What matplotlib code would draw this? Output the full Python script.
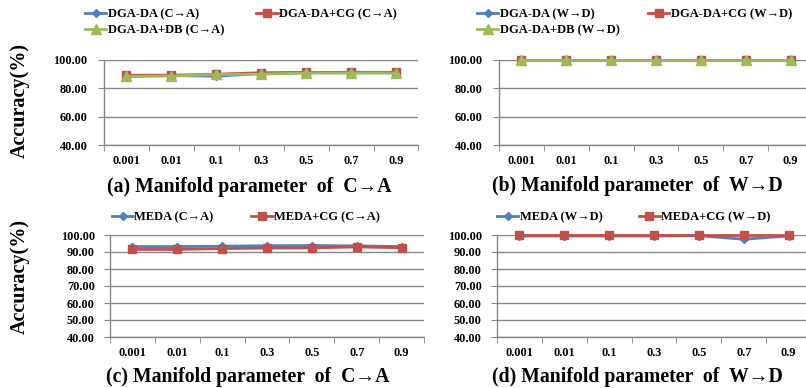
import matplotlib
matplotlib.use("Agg")
import matplotlib.pyplot as plt

plt.rcParams['font.family'] = ['Liberation Serif', 'DejaVu Serif']
plt.rcParams['font.weight'] = 'bold'

params = ["0.001", "0.01", "0.1", "0.3", "0.5", "0.7", "0.9"]

# (a) C->A, DGA-DA variants
dga_ca = [88.5, 89.0, 88.6, 90.5, 91.0, 91.0, 91.0]
dga_cg_ca = [89.3, 89.3, 90.0, 91.0, 91.2, 91.3, 91.3]
dga_db_ca = [88.5, 88.7, 89.8, 90.0, 90.8, 90.8, 90.8]

# (b) W->D, DGA-DA variants
dga_wd = [100.0, 100.0, 100.0, 100.0, 100.0, 100.0, 100.0]
dga_cg_wd = [100.0, 100.0, 100.0, 100.0, 100.0, 100.0, 100.0]
dga_db_wd = [99.8, 99.8, 99.8, 99.8, 99.8, 99.8, 99.8]

# (c) C->A, MEDA
meda_ca = [93.2, 93.2, 93.4, 93.7, 93.8, 93.6, 93.2]
meda_cg_ca = [91.5, 91.5, 92.0, 92.3, 92.4, 93.0, 92.5]

# (d) W->D, MEDA
meda_wd = [99.4, 99.4, 99.4, 99.4, 99.6, 97.5, 99.4]
meda_cg_wd = [100.0, 100.0, 100.0, 100.0, 100.0, 100.0, 100.0]

BLUE = "#4F81BD"
RED = "#C0504D"
GREEN = "#9BBB59"
GRAY = "#868686"

W, H = 806, 388
fig = plt.figure(figsize=(W / 100, H / 100), dpi=100)


def make_axes(l, r, t, b):
    return fig.add_axes([l / W, 1 - b / H, (r - l) / W, (b - t) / H])


def style(ax, yticks, ypad):
    x = range(len(params))
    ax.set_xlim(-0.5, len(params) - 0.5)
    ax.set_ylim(yticks[0], yticks[-1])
    ax.set_yticks(yticks)
    ax.set_yticklabels([f"{v:.2f}" for v in yticks], fontsize=8.8, fontweight='bold')
    ax.set_xticks(list(x))
    ax.set_xticklabels(params, fontsize=8.8, fontweight='bold')
    ax.set_xticks([i - 0.5 for i in range(len(params) + 1)], minor=True)
    ax.tick_params(axis='x', which='major', length=0, pad=7)
    ax.tick_params(axis='x', which='minor', length=4, color=GRAY, direction='out')
    ax.tick_params(axis='y', length=4, color=GRAY, pad=ypad)
    ax.grid(axis='y', color=GRAY, linewidth=1)
    ax.set_axisbelow(True)
    for s in ('top', 'right'):
        ax.spines[s].set_visible(False)
    for s in ('left', 'bottom'):
        ax.spines[s].set_color(GRAY)
        ax.spines[s].set_linewidth(1)


def plot_series(ax, y, color, marker, ms, label):
    return ax.plot(range(len(params)), y, color=color, marker=marker, markersize=ms,
                   linewidth=2, label=label, clip_on=False)[0]


def legend(handles, x, y, colsp):
    fig.legend(handles, [h.get_label() for h in handles], ncol=2, loc='upper left',
               bbox_to_anchor=(x / W, 1 - y / H), columnspacing=colsp, frameon=False,
               handlelength=1.7, handletextpad=0.1, borderaxespad=0, borderpad=0,
               labelspacing=0.3, prop={'weight': 'bold', 'size': 9})


def caption(x, y, s):
    fig.text(x / W, 1 - y / H, s, ha='center', va='center', fontsize=14.2, fontweight='bold')


# (a)
ax = make_axes(104, 418.5, 60, 145)
style(ax, [40, 60, 80, 100], 8)
h1 = plot_series(ax, dga_ca, BLUE, 'D', 4.5, "DGA-DA (C→A)")
h2 = plot_series(ax, dga_cg_ca, RED, 's', 6, "DGA-DA+CG (C→A)")
h3 = plot_series(ax, dga_db_ca, GREEN, '^', 6.5, "DGA-DA+DB (C→A)")
legend([h1, h3, h2], 85, 8.5, 2.6)
caption(249, 187, "(a) Manifold parameter  of  C→A")

# (b)
ax = make_axes(499, 813, 60, 145)
style(ax, [40, 60, 80, 100], 8)
h1 = plot_series(ax, dga_wd, BLUE, 'D', 4.5, "DGA-DA (W→D)")
h2 = plot_series(ax, dga_cg_wd, RED, 's', 6, "DGA-DA+CG (W→D)")
h3 = plot_series(ax, dga_db_wd, GREEN, '^', 6.5, "DGA-DA+DB (W→D)")
legend([h1, h3, h2], 477, 8.5, 2.3)
caption(637, 186, "(b) Manifold parameter  of  W→D")

# (c)
ax = make_axes(110, 424, 235, 337)
style(ax, [40, 50, 60, 70, 80, 90, 100], 7)
h1 = plot_series(ax, meda_ca, BLUE, 'D', 4.5, "MEDA (C→A)")
h2 = plot_series(ax, meda_cg_ca, RED, 's', 6, "MEDA+CG (C→A)")
legend([h1, h2], 112, 211, 3.0)
caption(248, 377, "(c) Manifold parameter  of  C→A")

# (d)
ax = make_axes(497, 811, 235, 337)
style(ax, [40, 50, 60, 70, 80, 90, 100], 7)
h1 = plot_series(ax, meda_wd, BLUE, 'D', 4.5, "MEDA (W→D)")
h2 = plot_series(ax, meda_cg_wd, RED, 's', 6, "MEDA+CG (W→D)")
legend([h1, h2], 497, 211, 2.9)
caption(637, 377, "(d) Manifold parameter  of  W→D")

# y labels
for yc in (100, 277):
    fig.text(20 / W, 1 - yc / H, "Accuracy(%)", rotation=90, ha='center', va='center',
             fontsize=14.5, fontweight='bold')

fig.savefig("out.png", dpi=100)
